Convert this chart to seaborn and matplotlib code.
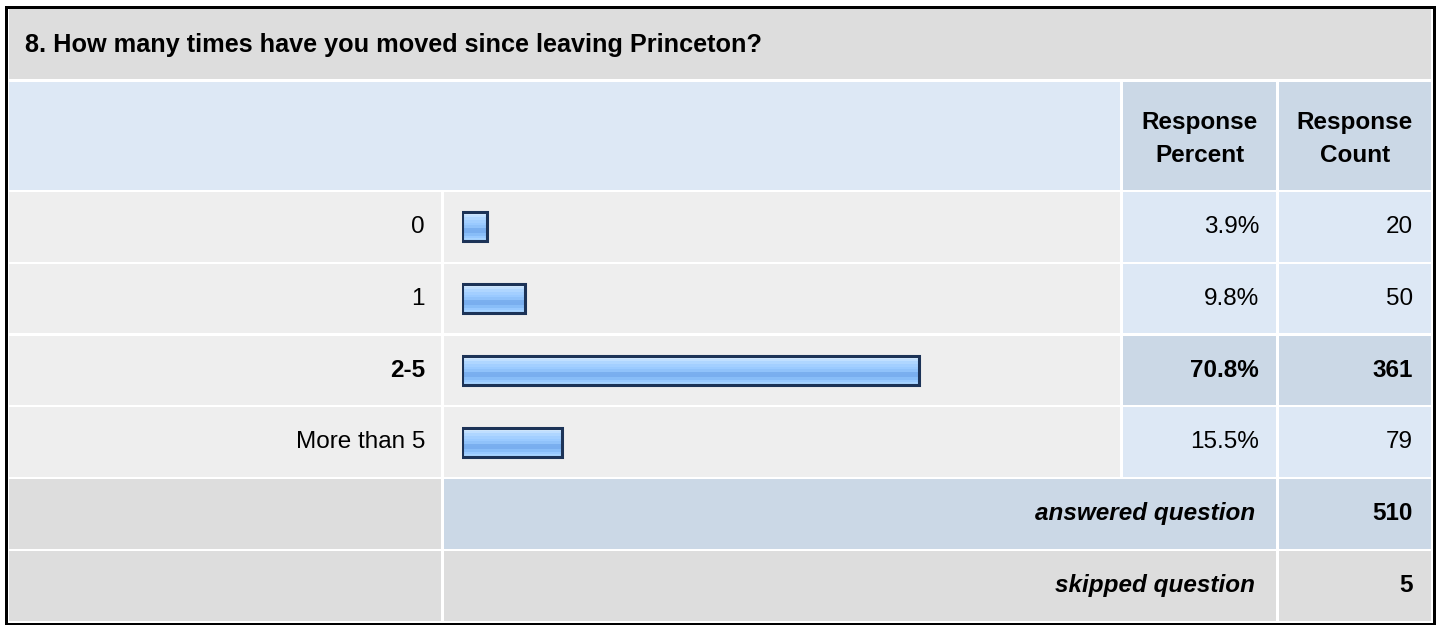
import numpy as np
import matplotlib
matplotlib.use("Agg")
import matplotlib.pyplot as plt
from matplotlib.patches import Rectangle
from matplotlib.colors import to_rgb
import seaborn as sns

# ---------------- data ----------------
title = "8. How many times have you moved since leaving Princeton?"
categories = ["0", "1", "2-5", "More than 5"]
percents = [3.9, 9.8, 70.8, 15.5]
counts = [20, 50, 361, 79]
header_pct = ["Response", "Percent"]
header_cnt = ["Response", "Count"]
answered_label = "answered question"
answered_count = 510
skipped_label = "skipped question"
skipped_count = 5

sns.set_theme(style="white")
plt.rcParams["font.family"] = ["Liberation Sans", "DejaVu Sans"]
plt.rcParams["text.color"] = "black"

W, H = 1440, 625
fig = plt.figure(figsize=(W / 100, H / 100), dpi=100)
fig.patch.set_facecolor("white")
ax = fig.add_axes([0, 0, 1, 1])
ax.set_xlim(0, W)
ax.set_ylim(H, 0)
ax.axis("off")

C_GRAY = "#dddddd"
C_LIGHT = "#eeeeee"
C_BLUE = "#dde8f5"
C_BLUE2 = "#cbd8e6"

def cell(x0, x1, y0, y1, color):
    ax.add_patch(Rectangle((x0, y0), x1 - x0, y1 - y0, facecolor=color,
                           edgecolor="none", zorder=1))

# columns
XL0, XL1 = 9, 441
XB0, XB1 = 444, 1120
XP0, XP1 = 1123, 1276
XC0, XC1 = 1279, 1431

# title row
cell(XL0, XC1, 9, 79, C_GRAY)
# header row
cell(XL0, XB1, 82, 190, C_BLUE)
cell(XP0, XP1, 82, 190, C_BLUE2)
cell(XC0, XC1, 82, 190, C_BLUE2)

ROW0, PITCH, RH = 192.0, 71.8, 69.5
tops = [ROW0 + PITCH * k for k in range(6)]
imax = int(np.argmax(percents))
for i in range(len(categories)):
    t = tops[i]
    cell(XL0, XL1, t, t + RH, C_LIGHT)
    cell(XB0, XB1, t, t + RH, C_LIGHT)
    vc = C_BLUE2 if i == imax else C_BLUE
    cell(XP0, XP1, t, t + RH, vc)
    cell(XC0, XC1, t, t + RH, vc)

t = tops[4]
cell(XL0, XL1, t, t + RH, C_GRAY)
cell(XB0, XP1, t, t + RH, C_BLUE2)
cell(XC0, XC1, t, t + RH, C_BLUE2)
t = tops[5]
cell(XL0, XL1, t, t + RH, C_GRAY)
cell(XB0, XP1, t, t + RH, C_GRAY)
cell(XC0, XC1, t, t + RH, C_GRAY)

# outer frame
ax.add_patch(Rectangle((5.5, 6.5), 1428, 617, facecolor="none",
                       edgecolor="black", linewidth=2.16, zorder=5))

FS = 17.5
TC = "black"
# title
ax.text(25, 45, title, fontsize=18.2, fontweight="bold", ha="left", va="center",
        color=TC, zorder=6)
# headers
pc = (XP0 + XP1) / 2
cc = (XC0 + XC1) / 2
for xc, lines in ((pc, header_pct), (cc, header_cnt)):
    ax.text(xc, 122, lines[0], fontsize=FS, fontweight="bold", ha="center", va="center",
            color=TC, zorder=6)
    ax.text(xc, 156, lines[1], fontsize=FS, fontweight="bold", ha="center", va="center",
            color=TC, zorder=6)

for i, (lab, p, n) in enumerate(zip(categories, percents, counts)):
    yc = tops[i] + RH / 2
    fw = "bold" if i == imax else "normal"
    ax.text(425, yc, lab, fontsize=FS, fontweight=fw, ha="right", va="center", color=TC, zorder=6)
    ax.text(1259, yc, f"{p:.1f}%", fontsize=FS, fontweight=fw, ha="right", va="center", color=TC, zorder=6)
    ax.text(1413, yc, f"{n}", fontsize=FS, fontweight=fw, ha="right", va="center", color=TC, zorder=6)

yc = tops[4] + RH / 2
ax.text(1255, yc, answered_label, fontsize=FS, fontweight="bold", fontstyle="italic",
        ha="right", va="center", color=TC, zorder=6)
ax.text(1413, yc, f"{answered_count}", fontsize=FS, fontweight="bold", ha="right", va="center",
        color=TC, zorder=6)
yc = tops[5] + RH / 2
ax.text(1255, yc, skipped_label, fontsize=FS, fontweight="bold", fontstyle="italic",
        ha="right", va="center", color=TC, zorder=6)
ax.text(1413, yc, f"{skipped_count}", fontsize=FS, fontweight="bold", ha="right", va="center",
        color=TC, zorder=6)

# ---------------- bars (seaborn) ----------------
BX0, BPX = 462.0, 6.45  # pixel of 0 %, pixels per percent
yb0 = tops[0] + RH / 2 - PITCH / 2
yb1 = tops[3] + RH / 2 + PITCH / 2
bax = fig.add_axes([BX0 / W, 1 - yb1 / H, 100 * BPX / W, (yb1 - yb0) / H])
bax.patch.set_alpha(0)
sns.barplot(x=percents, y=categories, orient="h", ax=bax, color="#9ecbff",
            edgecolor="#1c3357", linewidth=2.2, width=29 / PITCH, saturation=1)
bax.set_xlim(0, 100)
bax.set_ylim(3.5, -0.5)
bax.axis("off")

grad_cols = ["#d2e9ff", "#c0dfff", "#afd6ff", "#a3cfff", "#9acaff", "#90c2fa",
             "#7aafef", "#79aeef", "#88bdf8", "#98c9ff", "#a6d3ff"]
grad = np.array([to_rgb(c) for c in grad_cols]).reshape(-1, 1, 3)
for patch in bax.patches:
    x0, y0 = patch.get_x(), patch.get_y()
    w, h = patch.get_width(), patch.get_height()
    patch.set_facecolor("none")
    patch.set_zorder(3)
    im = bax.imshow(grad, extent=(x0, x0 + w, y0 + h, y0), aspect="auto",
                    interpolation="nearest", zorder=2)
    im.set_clip_path(patch)
bax.set_xlim(0, 100)
bax.set_ylim(3.5, -0.5)

fig.savefig("out.png", dpi=100, facecolor="white")
